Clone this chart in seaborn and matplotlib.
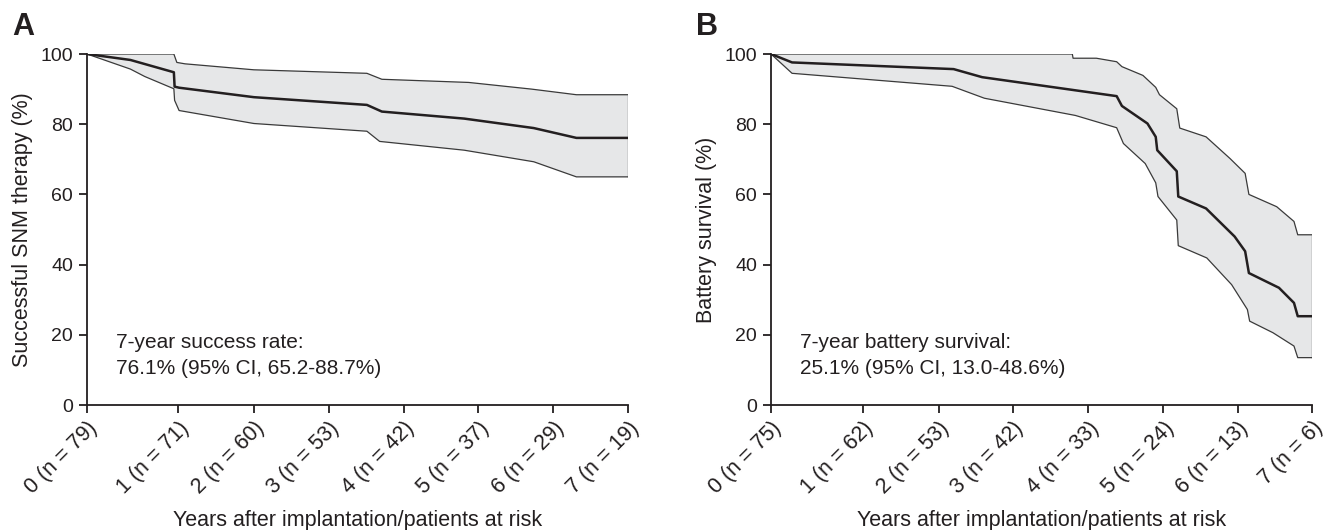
import numpy as np
import matplotlib
matplotlib.use("Agg")
import matplotlib.pyplot as plt
import seaborn as sns

# ---- data (x in axis time units, y in %) ----
a_x = [0, 0.58, 1.16, 1.17, 1.23, 2.23, 3.74, 3.94, 5.04, 5.97, 6.54, 7.23]
a_y = [100, 98.3, 94.8, 90.7, 90.4, 87.7, 85.5, 83.6, 81.6, 78.9, 76.1, 76.1]
a_up_x = [0, 1.16, 1.20, 1.31, 2.23, 3.74, 3.94, 5.10, 5.94, 6.54, 7.23]
a_up_y = [100, 100, 97.6, 97.2, 95.5, 94.5, 92.8, 91.9, 90.0, 88.4, 88.4]
a_lo_x = [0, 0.58, 0.77, 1.16, 1.17, 1.23, 2.23, 3.74, 3.91, 5.04, 5.97, 6.54, 7.23]
a_lo_y = [100, 95.7, 93.6, 90.1, 86.8, 83.9, 80.2, 78.0, 75.1, 72.6, 69.3, 65.0, 65.0]

b_x = [0, 0.28, 2.43, 2.81, 4.60, 4.67, 5.01, 5.12, 5.14, 5.40, 5.42, 5.79,
       6.17, 6.31, 6.36, 6.76, 6.96, 7.01, 7.20]
b_y = [100, 97.6, 95.7, 93.4, 88.0, 85.2, 80.2, 76.4, 72.6, 66.6, 59.4, 56.0,
       48.0, 43.8, 37.6, 33.4, 29.1, 25.3, 25.3]
b_up_x = [0, 4.01, 4.02, 4.33, 4.60, 4.67, 4.95, 5.12, 5.17, 5.40, 5.44, 5.79,
          6.11, 6.31, 6.36, 6.73, 6.96, 7.01, 7.20]
b_up_y = [100, 100, 98.8, 98.8, 97.8, 96.4, 93.9, 90.5, 88.4, 84.4, 78.9, 76.4,
          70.2, 66.0, 60.0, 56.5, 52.3, 48.5, 48.5]
b_lo_x = [0, 0.28, 2.41, 2.84, 4.05, 4.60, 4.69, 4.98, 5.12, 5.15, 5.40, 5.42,
          5.80, 6.13, 6.34, 6.37, 6.68, 6.96, 7.01, 7.20]
b_lo_y = [100, 94.5, 90.8, 87.4, 82.5, 79.0, 74.5, 68.8, 63.3, 59.4, 52.7, 45.4,
          41.9, 34.3, 27.2, 23.9, 20.6, 16.8, 13.5, 13.5]

years = [0, 1, 2, 3, 4, 5, 6, 7]
a_at_risk = [79, 71, 60, 53, 42, 37, 29, 19]
b_at_risk = [75, 62, 53, 42, 33, 24, 13, 6]

a_note = ["7-year success rate:", "76.1% (95% CI, 65.2-88.7%)"]
b_note = ["7-year battery survival:", "25.1% (95% CI, 13.0-48.6%)"]

sns.set_style("ticks")
plt.rcParams["font.family"] = ["Liberation Sans", "DejaVu Sans"]

dark = "#231f20"
fill_c = "#e6e7e8"

fig = plt.figure(figsize=(13.25, 5.3), dpi=100)
ax_a = fig.add_axes([0.0657, 0.2358, 0.4083, 0.6623])
ax_b = fig.add_axes([0.5819, 0.2358, 0.4083, 0.6623])

tick_pos_a = [0, 1.22, 2.23, 3.23, 4.23, 5.23, 6.23, 7.23]
tick_pos_b = [0, 1.22, 2.23, 3.22, 4.22, 5.22, 6.21, 7.20]

panels = [
    (ax_a, a_x, a_y, a_up_x, a_up_y, a_lo_x, a_lo_y, a_at_risk, tick_pos_a,
     "Successful SNM therapy (%)", a_note, "A", 0.009),
    (ax_b, b_x, b_y, b_up_x, b_up_y, b_lo_x, b_lo_y, b_at_risk, tick_pos_b,
     "Battery survival (%)", b_note, "B", 0.525),
]

for ax, x, y, ux, uy, lx, ly, risk, tpos, ylab, note, letter, lx_fig in panels:
    # confidence band
    poly_x = np.concatenate([ux, lx[::-1]])
    poly_y = np.concatenate([uy, ly[::-1]])
    ax.fill(poly_x, poly_y, color=fill_c, lw=0)
    sns.lineplot(x=ux, y=uy, ax=ax, color="#3a3a3a", lw=0.9, sort=False, estimator=None)
    sns.lineplot(x=lx, y=ly, ax=ax, color="#3a3a3a", lw=0.9, sort=False, estimator=None)
    ax.plot([ux[-1], lx[-1]], [uy[-1], ly[-1]], color="#3a3a3a", lw=0.9)
    # survival curve
    sns.lineplot(x=x, y=y, ax=ax, color=dark, lw=1.8, sort=False, estimator=None)

    ax.set_xlim(0, tpos[-1])
    ax.set_ylim(0, 100)
    ax.set_yticks([0, 20, 40, 60, 80, 100])
    ax.set_xticks(tpos)
    ax.set_xticklabels([f"{yr} (n = {n})" for yr, n in zip(years, risk)],
                       rotation=45, ha="right", va="top", rotation_mode="anchor")
    ax.tick_params(axis="both", labelsize=14, length=6, width=1.3, color=dark,
                   labelcolor=dark, pad=4)
    ax.tick_params(axis="x", labelsize=15.5, pad=3)
    for s in ["top", "right"]:
        ax.spines[s].set_visible(False)
    for s in ["left", "bottom"]:
        ax.spines[s].set_linewidth(1.3)
        ax.spines[s].set_color(dark)

    ax.set_ylabel(ylab, fontsize=15.5, color=dark, va="center")
    ax.yaxis.set_label_coords(-0.12, 0.5)
    ax.set_xlabel("Years after implantation/patients at risk", fontsize=15.5,
                  color=dark, va="center")
    ax.xaxis.set_label_coords(0.5, -0.33)

    ax.text(0.39, 16.2, note[0], fontsize=15, color=dark, va="baseline")
    ax.text(0.39, 8.8, note[1], fontsize=15, color=dark, va="baseline")
    fig.text(lx_fig, 0.934, letter, fontsize=22, fontweight="bold", color=dark,
             va="baseline")

fig.savefig("out.png", dpi=100)
